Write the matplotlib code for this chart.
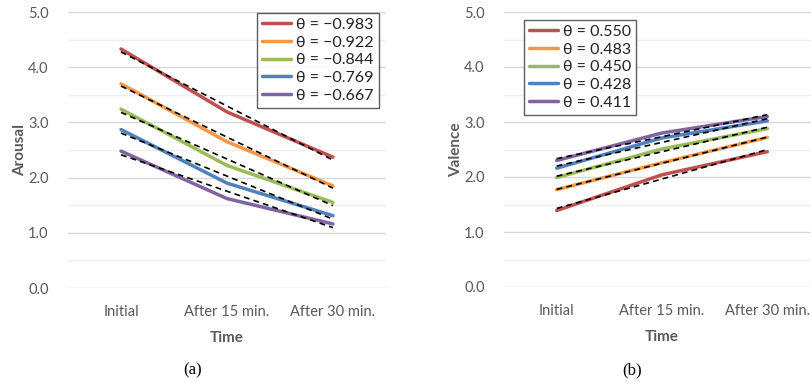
import numpy as np
import matplotlib
matplotlib.use("Agg")
import matplotlib.pyplot as plt

plt.rcParams['font.family'] = ['Lato', 'DejaVu Sans']

times = ["Initial", "After 15 min.", "After 30 min."]
colors = ["#C0504D", "#F79646", "#9BBB59", "#4F81BD", "#8064A2"]

arousal_theta = ["\u22120.983", "\u22120.922", "\u22120.844", "\u22120.769", "\u22120.667"]
arousal = [
    [4.33, 3.19, 2.37],
    [3.70, 2.65, 1.85],
    [3.24, 2.22, 1.55],
    [2.87, 1.90, 1.31],
    [2.48, 1.62, 1.16],
]

valence_theta = ["0.550", "0.483", "0.450", "0.428", "0.411"]
valence = [
    [1.39, 2.04, 2.46],
    [1.77, 2.26, 2.72],
    [1.99, 2.51, 2.88],
    [2.16, 2.71, 3.02],
    [2.30, 2.80, 3.10],
]

txt = "#595959"


def panel(ax, data, thetas, ylabel, legend_loc, ylab_x):
    x = np.arange(len(times)) + 0.5
    handles = []
    for vals, th, c in zip(data, thetas, colors):
        h, = ax.plot(x, vals, color=c, lw=2.5, solid_capstyle='round',
                     label="\u03b8 = " + th, zorder=3)
        handles.append(h)
    # linear trend lines on top
    for vals in data:
        k, b = np.polyfit(np.arange(len(vals)), vals, 1)
        ax.plot(x, k * np.arange(len(vals)) + b, color='black', lw=1.2,
                ls=(0, (3.5, 2.5)), zorder=4)
    ax.set_xlim(0, 3)
    ax.set_ylim(0, 5)
    ax.set_yticks(np.arange(0, 5.01, 1.0))
    ax.set_yticklabels([f"{v:.1f}" for v in np.arange(0, 5.01, 1.0)])
    ax.set_yticks(np.arange(0.5, 5, 1.0), minor=True)
    ax.set_xticks(x)
    ax.set_xticklabels(times)
    ax.grid(axis='y', which='major', color='#d9d9d9', lw=1.0, zorder=0)
    ax.grid(axis='y', which='minor', color='#efefef', lw=1.0, zorder=0)
    ax.tick_params(which='both', length=0, colors=txt, labelsize=10.5)
    ax.tick_params(axis='y', pad=14)
    ax.tick_params(axis='x', pad=12)
    for s in ax.spines.values():
        s.set_visible(False)
    ax.set_ylabel(ylabel, fontsize=11, fontweight='bold', color=txt)
    ax.yaxis.set_label_coords(ylab_x, 0.5)
    ax.set_xlabel("Time", fontsize=11, fontweight='bold', color=txt, labelpad=9)
    leg = ax.legend(handles=handles, loc='upper left', bbox_to_anchor=legend_loc,
                    fontsize=11.5, frameon=True, fancybox=False, handlelength=1.8,
                    handletextpad=0.35, labelspacing=0.22, borderpad=0.3,
                    borderaxespad=0)
    leg.get_frame().set_edgecolor('#333333')
    leg.get_frame().set_linewidth(1.0)
    for t in leg.get_texts():
        t.set_color('#222222')


fig = plt.figure(figsize=(8.12, 3.82), dpi=100)
ax1 = fig.add_axes([68 / 812, 1 - 288 / 382, 318 / 812, 276 / 382])
ax2 = fig.add_axes([504 / 812, 1 - 287 / 382, 316 / 812, 275 / 382])

panel(ax1, arousal, arousal_theta, "Arousal", ((257 - 68) / 318, 1 - 1 / 276), -0.13)
panel(ax2, valence, valence_theta, "Valence", ((524 - 504) / 316, 1 - 8 / 275), -0.13)

fig.text(193 / 812, 1 - 370 / 382, "(a)", family='Liberation Serif', fontsize=12,
         ha='center', va='center', color='black')
fig.text(632 / 812, 1 - 370 / 382, "(b)", family='Liberation Serif', fontsize=12,
         ha='center', va='center', color='black')

fig.savefig("out.png", dpi=100)
